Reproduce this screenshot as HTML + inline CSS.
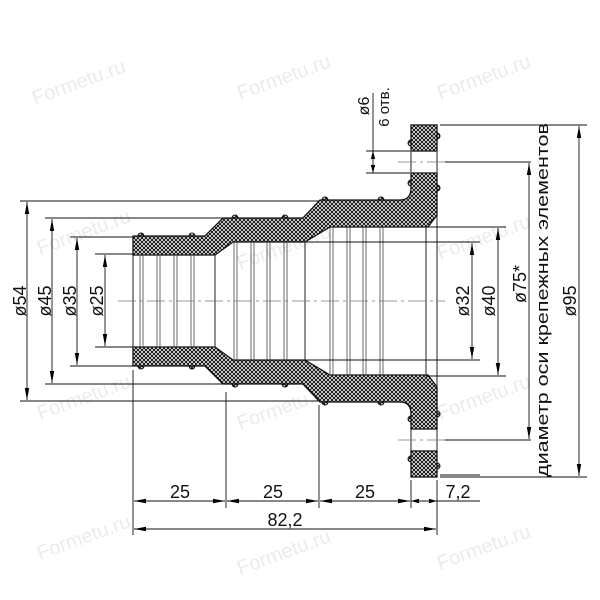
<!DOCTYPE html>
<html><head><meta charset="utf-8"><style>
html,body{margin:0;padding:0;background:#fff}
svg{display:block}
text{font-family:"Liberation Sans","DejaVu Sans",sans-serif;fill:#111}
.wm{fill:#ebebeb;font-size:20px}
</style></head><body>
<svg width="600" height="600" viewBox="0 0 600 600" xmlns="http://www.w3.org/2000/svg">
<defs>
<pattern id="h" width="4" height="4" patternUnits="userSpaceOnUse">
<rect width="4" height="4" fill="#fff"/>
<path d="M0,0 L4,4 M4,0 L0,4" stroke="#111" stroke-width="1"/>
</pattern>
<marker id="a" markerWidth="12" markerHeight="6" refX="12" refY="3" orient="auto" markerUnits="userSpaceOnUse"><path d="M0,0.8 L12,3 L0,5.2z" fill="#000"/></marker>
<marker id="s" markerWidth="12" markerHeight="6" refX="0" refY="3" orient="auto" markerUnits="userSpaceOnUse"><path d="M12,0.8 L0,3 L12,5.2z" fill="#000"/></marker>
</defs>

<text class="wm" x="35" y="105" transform="rotate(-20 35 105)">Formetu.ru</text>
<text class="wm" x="240" y="100" transform="rotate(-20 240 100)">Formetu.ru</text>
<text class="wm" x="440" y="100" transform="rotate(-20 440 100)">Formetu.ru</text>
<text class="wm" x="40" y="255" transform="rotate(-20 40 255)">Formetu.ru</text>
<text class="wm" x="240" y="270" transform="rotate(-20 240 270)">Formetu.ru</text>
<text class="wm" x="440" y="260" transform="rotate(-20 440 260)">Formetu.ru</text>
<text class="wm" x="40" y="420" transform="rotate(-20 40 420)">Formetu.ru</text>
<text class="wm" x="240" y="430" transform="rotate(-20 240 430)">Formetu.ru</text>
<text class="wm" x="440" y="420" transform="rotate(-20 440 420)">Formetu.ru</text>
<text class="wm" x="40" y="560" transform="rotate(-20 40 560)">Formetu.ru</text>
<text class="wm" x="240" y="575" transform="rotate(-20 240 575)">Formetu.ru</text>
<text class="wm" x="440" y="570" transform="rotate(-20 440 570)">Formetu.ru</text>

<g fill="url(#h)" stroke="#111" stroke-width="1">
<circle cx="141" cy="236" r="3"/><circle cx="192" cy="236" r="3"/>
<circle cx="235" cy="218" r="3"/><circle cx="285" cy="218" r="3"/>
<circle cx="325" cy="200" r="3"/><circle cx="381" cy="200" r="3"/>
<circle cx="141" cy="366" r="3"/><circle cx="192" cy="366" r="3"/>
<circle cx="235" cy="384" r="3"/><circle cx="285" cy="384" r="3"/>
<circle cx="325" cy="402" r="3"/><circle cx="381" cy="402" r="3"/>
<circle cx="411" cy="143" r="3"/><circle cx="437" cy="136" r="3"/>
<circle cx="411" cy="183" r="3"/><circle cx="437" cy="188" r="3"/>
<circle cx="411" cy="459" r="3"/><circle cx="437" cy="466" r="3"/>
<circle cx="411" cy="419" r="3"/><circle cx="437" cy="414" r="3"/>
</g>
<g stroke="#111" stroke-width="1.3" fill="url(#h)">
<path d="M133,236 L205,236 L223,218 L303,218 L320,200 L400,200 Q411,200 411,188 L411,173 L437,173 L437,215 L428,227 L330,227 L305,242 L233,242 L215,255 L133,255Z"/>
<path d="M133,366 L205,366 L223,384 L303,384 L320,402 L400,402 Q411,402 411,414 L411,429 L437,429 L437,387 L428,375 L330,375 L305,360 L233,360 L215,347 L133,347Z"/>
<rect x="411" y="125" width="26" height="26"/>
<rect x="411" y="451" width="26" height="26"/>
</g>

<g stroke="#222" stroke-width="1" fill="none">
<line x1="133" y1="255" x2="133" y2="347"/>
<line x1="215" y1="255" x2="215" y2="347"/>
<line x1="305" y1="242" x2="305" y2="360"/>
<line x1="426" y1="227" x2="426" y2="375"/>
<line x1="437" y1="151" x2="437" y2="173"/><line x1="411" y1="151" x2="411" y2="173"/>
<line x1="437" y1="429" x2="437" y2="451"/><line x1="411" y1="429" x2="411" y2="451"/>
<line x1="437" y1="215" x2="437" y2="387"/>
</g>
<g stroke="#444" stroke-width="0.8">
<path d="M140,255V347M143,255V347M157,255V347M160,255V347M174,255V347M177,255V347M191,255V347M194,255V347"/>
<path d="M234,242V360M237,242V360M251,242V360M254,242V360M267,242V360M270,242V360M284,242V360M287,242V360"/>
<path d="M330,227V375M333,227V375M347,227V375M350,227V375M363,227V375M366,227V375M380,227V375M383,227V375"/>
</g>
<g stroke="#777" stroke-width="0.8" stroke-dasharray="18,4,3,4">
<line x1="118" y1="301" x2="445" y2="301"/>
<line x1="398" y1="162" x2="445" y2="162"/>
<line x1="398" y1="440" x2="445" y2="440"/>
</g>

<g stroke="#111" stroke-width="0.9">
<line x1="20" y1="201" x2="320" y2="201"/><line x1="20" y1="401" x2="320" y2="401"/>
<line x1="45" y1="218" x2="223" y2="218"/><line x1="45" y1="384" x2="223" y2="384"/>
<line x1="70" y1="237" x2="133" y2="237"/><line x1="70" y1="366" x2="133" y2="366"/>
<line x1="95" y1="254" x2="133" y2="254"/><line x1="95" y1="347" x2="133" y2="347"/>
<line x1="440" y1="125" x2="587" y2="125"/><line x1="440" y1="477" x2="587" y2="477"/>
<line x1="445" y1="162" x2="531" y2="162"/><line x1="445" y1="440" x2="531" y2="440"/>
<line x1="426" y1="227" x2="506" y2="227"/><line x1="426" y1="376" x2="506" y2="376"/>
<line x1="305" y1="242" x2="480" y2="242"/><line x1="305" y1="360" x2="480" y2="360"/>
<line x1="366" y1="151" x2="410" y2="151"/><line x1="366" y1="173" x2="410" y2="173"/>
<line x1="133" y1="370" x2="133" y2="535"/>
<line x1="226" y1="392" x2="226" y2="508"/>
<line x1="319" y1="405" x2="319" y2="508"/>
<line x1="411" y1="480" x2="411" y2="508"/>
<line x1="437" y1="480" x2="437" y2="535"/>
<line x1="440" y1="475" x2="480" y2="475"/>
</g>
<g stroke="#111" stroke-width="0.9" marker-start="url(#s)" marker-end="url(#a)">
<line x1="27" y1="202" x2="27" y2="400"/>
<line x1="52" y1="219" x2="52" y2="383"/>
<line x1="77" y1="238" x2="77" y2="365"/>
<line x1="105" y1="255" x2="105" y2="346"/>
<line x1="579" y1="126" x2="579" y2="476"/>
<line x1="529" y1="163" x2="529" y2="439"/>
<line x1="498" y1="228" x2="498" y2="375"/>
<line x1="472" y1="243" x2="472" y2="359"/>
<line x1="134" y1="501" x2="225" y2="501"/>
<line x1="227" y1="501" x2="318" y2="501"/>
<line x1="320" y1="501" x2="410" y2="501"/>
<line x1="134" y1="529" x2="436" y2="529"/>
</g>
<g stroke="#111" stroke-width="0.9">
<line x1="411" y1="501" x2="480" y2="501"/>
<line x1="373" y1="93" x2="373" y2="173"/>
</g>
<path d="M411,501 l8,-2.2 v4.4z M437,501 l-8,-2.2 v4.4z M373,151 l-2.2,8 h4.4z M373,173 l-2.2,-8 h4.4z" fill="#000"/>

<g font-size="18">
<text transform="translate(26,301) rotate(-90)" text-anchor="middle">ø54</text>
<text transform="translate(51,301) rotate(-90)" text-anchor="middle">ø45</text>
<text transform="translate(76,301) rotate(-90)" text-anchor="middle">ø35</text>
<text transform="translate(103,301) rotate(-90)" text-anchor="middle">ø25</text>
<text transform="translate(469,301) rotate(-90)" text-anchor="middle">ø32</text>
<text transform="translate(495,301) rotate(-90)" text-anchor="middle">ø40</text>
<text transform="translate(526,284) rotate(-90)" text-anchor="middle">ø75*</text>
<text transform="translate(576,301) rotate(-90)" text-anchor="middle">ø95</text>
<text transform="translate(548,300) rotate(-90)" text-anchor="middle" font-size="17" textLength="354" lengthAdjust="spacingAndGlyphs">диаметр оси крепежных элементов</text>
<text x="180" y="498" text-anchor="middle">25</text>
<text x="273" y="498" text-anchor="middle">25</text>
<text x="365" y="498" text-anchor="middle">25</text>
<text x="458" y="498" text-anchor="middle">7,2</text>
<text x="285" y="526" text-anchor="middle">82,2</text>
<text transform="translate(369,106) rotate(-90)" text-anchor="middle" font-size="16">ø6</text>
<text transform="translate(389,107) rotate(-90)" text-anchor="middle" font-size="15">6 отв.</text>
</g>
</svg>
</body></html>
